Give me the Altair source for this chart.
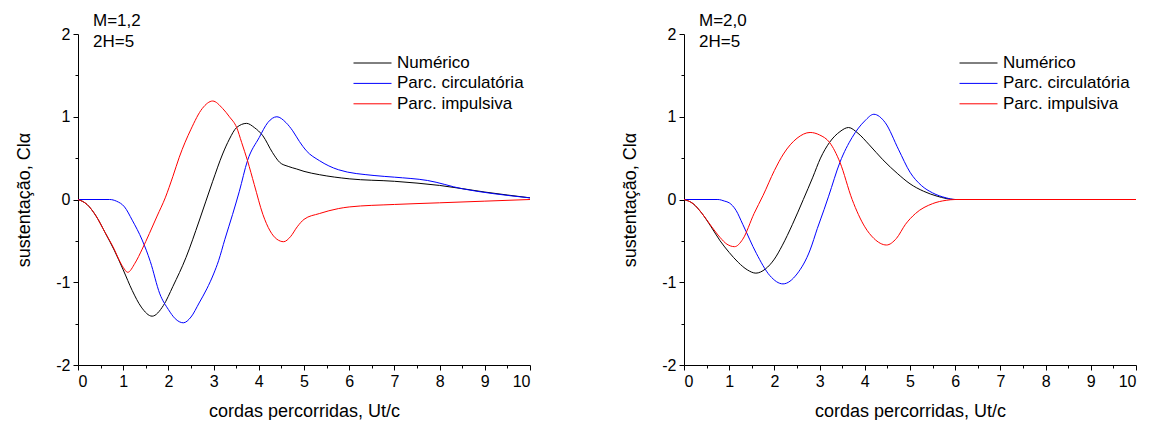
import altair as alt
import pandas as pd

FONT = "Liberation Sans"
SERIES = ["Numérico", "Parc. circulatória", "Parc. impulsiva"]
COLORS = ["#000000", "#0000ff", "#ff0000"]
X_TICKS = [0, 1, 2, 3, 4, 5, 6, 7, 8, 9, 10]
X_MINOR = [0.5, 1.5, 2.5, 3.5, 4.5, 5.5, 6.5, 7.5, 8.5, 9.5]
Y_TICKS = [-2, -1, 0, 1, 2]
Y_MINOR = [-1.5, -0.5, 0.5, 1.5]
X_TITLE = "cordas percorridas, Ut/c"
Y_TITLE = "sustentação, Clα"
ANNOT_LEFT = "M=1,2\n2H=5"
ANNOT_RIGHT = "M=2,0\n2H=5"

# ---- M = 1,2 ----
num12_x = [0, 0.2, 0.4, 0.6, 0.8, 1.0, 1.2, 1.4, 1.64, 1.89, 2.1, 2.39, 2.68, 2.98, 3.2, 3.35, 3.51,
           3.73, 3.9, 4.09, 4.3, 4.46, 4.65, 4.83, 5.0, 5.34, 6.0, 7.0, 8.0, 9.0, 10.0]
num12_y = [0, -0.06, -0.2, -0.4, -0.61, -0.85, -1.1, -1.3, -1.41, -1.28, -1.05, -0.70, -0.26, 0.22, 0.55,
           0.73, 0.87, 0.92, 0.87, 0.77, 0.57, 0.45, 0.40, 0.37, 0.34, 0.30, 0.25, 0.22, 0.17, 0.09, 0.02]
circ12_x = [0, 0.7, 0.85, 1.03, 1.2, 1.42, 1.6, 1.81, 2.0, 2.15, 2.33, 2.5, 2.68, 2.85, 3.0, 3.11, 3.25,
            3.42, 3.57, 3.75, 4.01, 4.2, 4.4, 4.6, 4.75, 4.9, 5.05, 5.34, 5.76, 6.55, 7.0, 7.73, 8.5, 9.2, 10.0]
circ12_y = [0, 0, -0.02, -0.09, -0.25, -0.49, -0.75, -1.14, -1.33, -1.44, -1.49, -1.42, -1.25, -1.08, -0.9,
            -0.74, -0.48, -0.18, 0.1, 0.47, 0.75, 0.93, 1.0, 0.93, 0.83, 0.7, 0.59, 0.47, 0.36, 0.29, 0.27,
            0.23, 0.13, 0.07, 0.02]
imp12_x = [0, 0.2, 0.4, 0.6, 0.8, 0.9, 1.0, 1.1, 1.26, 1.42, 1.58, 1.75, 1.93, 2.1, 2.24, 2.5, 2.75, 2.98,
           3.2, 3.35, 3.51, 3.62, 3.75, 3.9, 4.09, 4.25, 4.4, 4.55, 4.7, 4.85, 5.0, 5.34, 5.76, 6.0, 7.0,
           8.0, 9.0, 10.0]
imp12_y = [0, -0.06, -0.2, -0.4, -0.6, -0.72, -0.82, -0.88, -0.77, -0.6, -0.41, -0.2, 0.02, 0.28, 0.51,
           0.85, 1.1, 1.19, 1.1, 1.0, 0.87, 0.69, 0.47, 0.18, -0.18, -0.38, -0.48, -0.51, -0.45, -0.33,
           -0.24, -0.17, -0.11, -0.09, -0.06, -0.04, -0.02, 0.0]

# ---- M = 2,0 ----
num20_x = [0, 0.2, 0.4, 0.6, 0.8, 1.0, 1.2, 1.4, 1.59, 1.8, 2.0, 2.17, 2.4, 2.64, 2.85, 3.02, 3.22, 3.45,
           3.64, 3.85, 4.1, 4.4, 4.73, 5.0, 5.3, 5.6, 6.0, 10.0]
num20_y = [0, -0.05, -0.17, -0.33, -0.5, -0.64, -0.76, -0.85, -0.89, -0.84, -0.72, -0.56, -0.3, 0.0,
           0.27, 0.5, 0.69, 0.82, 0.87, 0.8, 0.66, 0.48, 0.31, 0.19, 0.1, 0.04, 0.0, 0.0]
circ20_x = [0, 0.75, 0.9, 1.0, 1.15, 1.3, 1.6, 1.9, 2.19, 2.5, 2.79, 2.95, 3.1, 3.2, 3.45, 3.72, 4.0,
            4.2, 4.45, 4.75, 5.0, 5.25, 5.5, 5.8, 6.0, 10.0]
circ20_y = [0, 0, -0.02, -0.04, -0.13, -0.3, -0.65, -0.92, -1.02, -0.9, -0.61, -0.35, -0.12, 0.04, 0.45,
            0.75, 0.95, 1.03, 0.93, 0.6, 0.33, 0.17, 0.08, 0.02, 0.0, 0.0]
imp20_x = [0, 0.2, 0.4, 0.6, 0.8, 0.95, 1.12, 1.3, 1.55, 1.75, 2.0, 2.2, 2.5, 2.79, 3.0, 3.22, 3.45, 3.72,
           4.0, 4.2, 4.48, 4.7, 4.9, 5.12, 5.5, 5.8, 6.0, 10.0]
imp20_y = [0, -0.05, -0.17, -0.32, -0.46, -0.54, -0.57, -0.48, -0.17, 0.05, 0.35, 0.55, 0.74, 0.81, 0.78,
           0.69, 0.45, 0.0, -0.33, -0.47, -0.55, -0.47, -0.3, -0.17, -0.05, -0.01, 0.0, 0.0]


def frame(groups):
    rows = []
    for name, xs, ys in groups:
        for xv, yv in zip(xs, ys):
            rows.append({"serie": name, "x": xv, "y": yv})
    return pd.DataFrame(rows)


left_df = frame([(SERIES[0], num12_x, num12_y), (SERIES[1], circ12_x, circ12_y), (SERIES[2], imp12_x, imp12_y)])
right_df = frame([(SERIES[0], num20_x, num20_y), (SERIES[1], circ20_x, circ20_y), (SERIES[2], imp20_x, imp20_y)])
minor_df = pd.DataFrame({"x": X_MINOR[:4], "y": Y_MINOR})

W, H = 452, 331


def panel(df, annot):
    xs = alt.Scale(domain=[0, 10], nice=False, zero=False)
    ys = alt.Scale(domain=[-2, 2], nice=False, zero=False)
    lines = alt.Chart(df).mark_line(interpolate="monotone", strokeWidth=1, clip=True).encode(
        x=alt.X("x:Q", scale=xs, title=X_TITLE,
                axis=alt.Axis(values=X_TICKS, labelExpr="datum.value + ''", tickSize=5,
                              labelPadding=3, titlePadding=13, orient="bottom")),
        y=alt.Y("y:Q", scale=ys, title=Y_TITLE,
                axis=alt.Axis(values=Y_TICKS, labelExpr="datum.value + ''", tickSize=5,
                              labelPadding=3, titlePadding=22, orient="left")),
        color=alt.Color("serie:N", sort=SERIES,
                        scale=alt.Scale(domain=SERIES, range=COLORS),
                        legend=alt.Legend(title=None, orient="none", legendX=275, legendY=21,
                                          symbolType="stroke", symbolSize=1444, symbolStrokeWidth=1,
                                          clipHeight=16, rowPadding=3.4, labelOffset=5, padding=0,
                                          labelFont=FONT, labelFontSize=17, labelColor="black")),
    )
    minor = alt.Chart(minor_df).mark_point(opacity=0).encode(
        x=alt.X("x:Q", scale=xs,
                axis=alt.Axis(values=X_MINOR, labels=False, tickSize=3, domain=False,
                              title=None, orient="bottom")),
        y=alt.Y("y:Q", scale=ys,
                axis=alt.Axis(values=Y_MINOR, labels=False, tickSize=3, domain=False,
                              title=None, orient="left")),
    )
    text = alt.Chart(pd.DataFrame({"t": [annot]})).mark_text(
        align="left", baseline="alphabetic", lineBreak="\n", lineHeight=21,
        font=FONT, fontSize=17, color="black"
    ).encode(text="t:N", x=alt.value(15), y=alt.value(-8))
    return alt.layer(lines, minor, text).resolve_axis(x="independent", y="independent").properties(
        width=W, height=H)


chart = alt.hconcat(panel(left_df, ANNOT_LEFT), panel(right_df, ANNOT_RIGHT), spacing=90).resolve_scale(
    color="independent"
).properties(
    padding={"left": 7, "top": 4, "right": 5, "bottom": 0}, background="white"
).configure_view(strokeWidth=0).configure_axis(
    grid=False, domainColor="black", tickColor="black", labelColor="black", titleColor="black",
    labelFont=FONT, titleFont=FONT, labelFontSize=16, titleFontSize=18, titleFontWeight="normal",
    domainWidth=1, tickWidth=1
)

chart.save("out.html", embed_options={"renderer": "svg", "actions": False})
